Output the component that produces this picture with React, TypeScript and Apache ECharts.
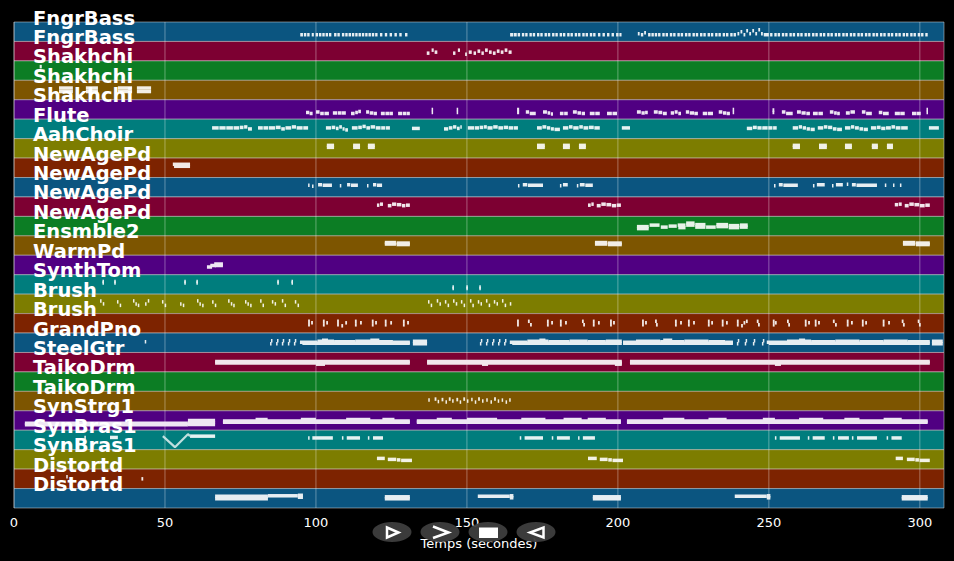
import React, { useEffect, useRef } from 'react';
import * as echarts from 'echarts';

const laneLabels = ['FngrBass', 'FngrBass', 'Shakhchi', 'Shakhchi', 'Shakhchi', 'Flute', 'AahChoir', 'NewAgePd', 'NewAgePd', 'NewAgePd', 'NewAgePd', 'Ensmble2', 'WarmPd', 'SynthTom', 'Brush', 'Brush', 'GrandPno', 'SteelGtr', 'TaikoDrm', 'TaikoDrm', 'SynStrg1', 'SynBras1', 'SynBras1', 'Distortd', 'Distortd'];
const laneColors = ['#0b5580', '#7d0032', '#0c7d24', '#7d5500', '#500082', '#007d7d', '#7d7d00', '#7d2300'];
const timeTicks = [0, 50, 100, 150, 200, 250, 300];
const timeMax = 308;

// notes: [start (s), end (s), pitch offset within lane]
const lane0 = [[94.8,95.7,-3],[96.0,96.8,-3],[97.1,97.9,-3],[98.6,99.3,-3],[99.9,100.7,-3],[101.0,101.8,-3],[102.1,102.9,-3],[103.2,104.0,-3],[104.3,105.1,-3],[106.0,106.8,-3],[107.1,107.9,-3],[108.6,109.4,-3],[109.7,110.5,-3],[110.8,111.6,-3],[111.9,112.7,-3],[113.0,113.8,-3],[114.1,114.9,-3],[115.2,116.0,-3],[116.3,117.1,-3],[117.4,118.2,-3],[118.5,119.3,-3],[119.6,120.4,-3],[121.2,122.0,-3],[122.8,123.6,-3],[124.4,125.2,-3],[126.0,126.8,-3],[127.6,128.4,-3],[129.5,130.3,-3],
[164.3,165.3,-3],[165.5,166.5,-3],[166.8,167.6,-3],[168.2,169.0,-3],[169.3,170.1,-3],[170.7,171.5,-3],[171.8,172.6,-3],[173.2,174.0,-3],[174.3,175.1,-3],[175.7,176.5,-3],[176.8,177.6,-3],[178.2,179.0,-3],[179.3,180.1,-3],[180.7,181.5,-3],[181.8,182.6,-3],[183.2,184.0,-3],[184.3,185.1,-3],[185.7,186.5,-3],[186.8,187.6,-3],[188.2,189.0,-3],[189.3,190.1,-3],[190.7,191.5,-3],[191.8,192.6,-3],[193.4,194.2,-3],[194.9,195.7,-3],[196.4,197.2,-3],[197.9,198.7,-3],[199.4,200.2,-3],[200.5,201.2,-3],
[206.6,207.2,-2],[207.6,208.4,-3],[208.7,209.3,-1],[210.0,210.8,-3],[211.1,211.9,-3],[212.2,213.0,-3],[213.3,214.1,-3],[214.7,215.5,-3],[215.8,216.6,-3],[217.2,218.0,-3],[218.3,219.1,-3],[219.7,220.5,-3],[220.8,221.6,-3],[222.2,223.0,-3],[223.3,224.1,-3],[224.7,225.5,-3],[225.8,226.6,-3],[227.2,228.0,-3],[228.3,229.1,-3],[229.7,230.5,-3],[230.8,231.6,-3],[232.2,233.0,-3],[233.3,234.1,-3],[234.7,235.5,-3],[235.8,236.6,-3],[237.2,238.0,-3],[238.3,239.1,-3],[239.6,240.2,-2],[240.6,241.2,0],[241.6,242.2,-3],[242.5,243.1,1],[243.5,244.1,-2],[244.5,245.1,1],[245.5,246.1,-2],[246.5,247.1,2],[247.4,248.0,-2],[248.3,250.0,-3],[250.4,251.2,-3],[251.8,252.6,-3],[252.9,253.7,-3],[254.3,255.1,-3],[255.4,256.2,-3],[256.8,257.6,-3],[257.9,258.7,-3],[259.3,260.1,-3],[260.4,261.2,-3],[261.8,262.6,-3],[262.9,263.7,-3],[264.3,265.1,-3],[265.4,266.2,-3],[266.8,267.6,-3],[267.9,268.7,-3],[269.3,270.1,-3],[270.4,271.2,-3],[271.8,272.6,-3],[272.9,273.7,-3],[274.3,275.1,-3],[275.4,276.2,-3],[276.8,277.6,-3],[277.9,278.7,-3],[279.3,280.1,-3],[280.4,281.2,-3],[281.8,282.6,-3],[282.9,283.7,-3],[284.3,285.1,-3],[285.4,286.2,-3],[286.8,287.6,-3],[287.9,288.7,-3],[289.3,290.1,-3],[290.4,291.2,-3],[291.8,292.6,-3],[292.9,293.7,-3],[294.3,295.1,-3],[295.4,296.2,-3],[296.8,297.6,-3],[297.9,298.7,-3],[299.3,300.1,-3],[300.4,301.2,-3],[301.8,302.6,-3]];
const lane1 = [[136.7,137.6,-2],[138.3,139.0,1],[139.3,140.2,-1],[145.4,146.2,-2],[147.0,147.7,1],[149.4,150.0,-3],[150.6,151.6,-1],[152.2,153.0,-2],[153.5,154.4,0],[154.8,155.6,-2],[156.0,156.9,1],[157.3,158.2,-1],[158.6,159.5,-2],[159.9,160.8,0],[161.2,162.1,-1],[162.5,163.4,1],[163.8,164.8,-1]];
const lane2 = [[8.5,9.2,4]];
const lane3 = [[14.9,19.5,2],[14.9,19.5,-1.5],[23.8,27.8,2],[23.8,27.8,-1.5],[34.4,39.1,2],[34.4,39.1,-1.5],[40.7,45.4,2],[40.7,45.4,-1.5]];
const lane4 = [[96.7,97.8,-3],[97.9,98.9,-4],[100.0,101.2,-2.5],[101.4,102.6,-4],[102.8,104.3,-4],[105.6,107.0,-3.5],[107.2,108.5,-3.5],[108.6,109.9,-3.5],[111.6,112.8,-4],[113.0,113.9,-3],[114.0,114.9,-2],[116.6,117.6,-2.5],[117.8,119.0,-3.5],[119.1,120.2,-4],[121.5,122.8,-4],[123.0,124.2,-4],[124.3,125.5,-4],[127.2,128.5,-4],[128.7,129.9,-4],[130.0,131.1,-4],[138.3,138.8,-3],[138.3,138.8,0],[146.6,147.1,-3],[146.6,147.1,0],[166.6,167.3,-3],[166.6,167.3,0],[169.5,170.6,-2.5],[170.8,172.8,-4],[175.2,176.5,-2.5],[176.7,177.6,-3.5],[177.8,178.5,-4.5],[180.8,182.0,-4],[182.2,183.4,-4],[185.1,186.4,-2.5],[186.6,187.8,-3.5],[188.0,189.1,-4],[190.7,192.3,-4],[192.5,194.0,-4],[196.4,198.0,-4],[198.2,199.7,-4],[206.3,207.6,-2.5],[207.8,208.9,-3.5],[209.0,209.9,-3],[211.9,213.2,-2.5],[213.4,214.7,-3],[214.9,216.2,-4],[217.5,218.6,-3.5],[218.8,219.8,-2.5],[220.0,220.9,-4],[222.5,223.6,-2.5],[223.8,225.2,-3.5],[225.3,226.5,-4],[228.1,229.6,-4],[229.8,231.5,-4],[233.4,234.6,-2.5],[234.8,235.9,-3.5],[236.0,237.1,-4],[238.0,238.5,-3],[238.0,238.5,0],[251.2,251.8,-3],[251.2,251.8,-0.5],[254.3,255.5,-2.5],[255.7,257.9,-4],[259.3,260.6,-2.5],[260.8,262.2,-3.5],[262.4,263.6,-4],[264.6,266.2,-4],[266.4,267.9,-4],[270.2,271.4,-2.5],[271.6,272.5,-3.5],[272.6,273.5,-4],[275.5,276.8,-3.5],[277.0,278.5,-2.5],[280.8,282.0,-2.5],[282.2,284.1,-4],[286.4,287.6,-3],[287.8,289.7,-4],[291.7,293.4,-4],[293.5,295.0,-4],[297.4,298.9,-4],[299.0,300.3,-4],[302.2,302.7,-3],[302.2,302.7,0]];
const lane5 = [[65.6,67.8,1],[68.0,70.1,1],[70.3,72.5,1],[72.7,74.6,1],[74.8,76.0,1.5],[76.2,77.3,2],[77.5,78.8,0],[80.8,82.4,1],[82.6,84.2,1],[84.4,86.5,1],[86.7,88.3,1.5],[88.5,89.7,0],[89.9,91.8,1],[92.0,93.4,2],[93.6,95.6,1],[95.8,97.4,1],[103.3,105.0,1],[105.2,106.4,1.5],[106.6,107.5,0.5],[107.7,108.6,2],[108.8,109.5,0],[109.7,110.6,-1],[111.9,113.8,1],[114.0,115.2,1.5],[115.4,116.5,2.5],[116.7,117.9,1],[118.1,119.6,2],[119.8,121.4,1],[121.6,123.0,1],[123.2,124.5,1],[131.8,134.4,0.5],[142.4,143.8,0],[144.0,145.2,1],[145.4,146.5,2],[146.7,147.6,0.5],[147.8,148.3,2],[150.3,152.4,1],[152.6,154.0,1],[154.2,155.4,1.5],[155.6,156.6,2],[156.8,158.5,1],[158.7,160.2,2],[160.4,162.0,1],[162.2,163.6,1.5],[163.8,165.4,1],[165.6,166.9,1],[173.2,174.8,1],[175.0,176.3,2],[176.5,177.6,1],[177.8,178.8,0],[179.0,180.8,-0.5],[181.8,183.6,1],[183.8,185.0,2],[185.2,187.0,1],[187.2,188.4,2],[188.6,190.2,1],[190.4,192.0,1.5],[192.2,194.0,1],[201.3,204.0,1],[242.7,244.5,0.5],[244.7,246.0,1.5],[246.2,247.6,1],[247.8,249.6,1],[249.8,251.2,1],[251.4,252.6,1],[257.9,259.7,1],[259.9,261.0,2],[261.2,262.3,1],[262.5,263.6,0],[263.8,265.2,-0.5],[266.2,268.0,1],[268.2,269.4,2],[269.6,271.0,1.5],[271.2,272.4,0],[272.6,274.2,-0.5],[275.2,277.0,1],[277.2,278.3,2],[278.5,279.8,1],[280.0,281.2,0],[281.4,282.8,-0.5],[283.8,285.6,1],[285.8,287.0,1.5],[287.2,288.6,0.5],[288.8,290.4,1],[290.6,291.8,2],[292.0,293.6,1],[293.8,296.0,1],[303.0,306.3,1]];
const lane6 = [[103.6,106.0,3],[103.6,106.0,1],[112.3,114.6,3],[112.3,114.6,1],[117.2,119.5,3],[117.2,119.5,1],[173.2,175.8,3],[173.2,175.8,1],[181.8,184.1,3],[181.8,184.1,1],[187.1,189.4,3],[187.1,189.4,1],[257.9,260.3,3],[257.9,260.3,1],[266.6,269.2,3],[266.6,269.2,1],[275.2,277.5,3],[275.2,277.5,1],[284.1,286.1,3],[284.1,286.1,1],[289.1,291.1,3],[289.1,291.1,1]];
const lane7 = [[52.6,58.3,3.5],[53.0,58.3,1.5]];
const lane8 = [[97.4,97.9,2],[98.7,99.2,1],[100.7,102.0,2.5],[102.2,105.3,2],[107.9,108.4,1.5],[110.3,111.4,2.5],[111.6,113.9,2],[116.9,117.4,1.5],[118.9,120.0,2.5],[120.2,121.9,2],[166.9,167.4,1.5],[168.5,170.0,2.5],[170.2,175.2,2],[180.8,181.3,1.5],[181.8,183.4,2.5],[186.4,186.9,1.5],[187.4,189.0,2.5],[189.2,191.7,2],[251.7,252.2,1.5],[253.3,254.6,2.5],[254.8,259.6,2],[264.6,265.1,1.5],[265.9,268.5,2.5],[270.9,271.4,1.5],[272.2,274.5,2.5],[275.8,276.3,3],[277.5,278.8,2.5],[279.0,285.8,2],[288.4,288.9,2],[291.1,291.6,2],[293.4,293.9,2]];
const lane9 = [[120.2,121.0,1.5],[121.2,122.2,2.5],[123.8,125.0,1],[125.2,126.6,2.5],[126.8,128.3,2],[128.5,129.6,1],[129.8,131.1,1.5],[190.1,191.0,1.5],[191.2,192.0,2.5],[193.0,194.3,1],[194.5,196.0,2.5],[196.2,197.8,2],[198.0,199.4,1],[199.6,201.0,1.5],[291.7,292.8,2],[293.0,294.0,2.5],[295.0,296.3,1],[296.5,298.0,2.5],[298.2,299.8,2],[300.0,301.6,1],[301.8,303.3,1.5]];
const lane10 = [[206.3,210.2,-0.5],[206.3,210.2,-2.5],[210.5,213.8,1],[214.2,216.5,-1],[216.8,219.5,0],[219.8,222.4,1],[220.0,222.4,-1.5],[222.6,225.4,3],[222.6,225.4,1],[225.6,229.0,1.5],[225.6,229.0,-1],[229.2,232.4,-1],[232.6,236.5,1.5],[232.6,236.5,-0.5],[236.7,240.2,0.5],[236.7,240.2,-1.5],[240.4,243.0,1],[240.4,243.0,-1]];
const lane11 = [[122.8,126.5,3],[122.8,126.5,1.5],[126.7,131.1,2.5],[126.7,131.1,1],[192.4,196.5,3],[192.4,196.5,1.5],[196.7,201.3,2.5],[196.7,201.3,1],[294.4,298.5,3],[294.4,298.5,1.5],[298.7,303.3,2.5],[298.7,303.3,1]];
const lane12 = [[63.9,65.6,-2],[65.0,66.9,-0.5],[66.3,69.2,1],[66.5,69.2,-0.5]];
const lane13 = [[29.3,29.7,1.5],[29.3,29.7,3],[33.2,33.6,1.5],[33.2,33.6,3],[56.4,56.8,1.5],[56.4,56.8,3],[60.4,60.8,1.5],[60.4,60.8,3],[87.2,87.6,1.5],[87.2,87.6,3],[91.9,92.3,1.5],[91.9,92.3,3],[145.2,145.6,-4],[145.2,145.6,-2.5],[149.8,150.2,-4],[149.8,150.2,-2.5],[154.1,154.5,-4],[154.1,154.5,-2.5]];
const lane14 = [[28.5,29.0,3],[29.4,29.9,0],[34.1,34.6,2],[35.0,35.5,-1.5],[39.4,39.9,3],[40.2,40.7,0],[41.0,41.5,-1.5],[43.4,43.9,0],[44.3,44.8,3],[49.0,49.5,2],[49.9,50.4,-1.5],[55.0,55.5,0],[55.9,56.4,-1.5],[60.6,61.1,3],[61.4,61.9,0],[62.3,62.8,-1.5],[65.6,66.1,2],[66.5,67.0,-1.5],[70.9,71.4,3],[71.8,72.3,0],[72.6,73.1,-1.5],[76.5,77.0,2],[77.3,77.8,0],[78.2,78.7,-1.5],[81.5,82.0,3],[82.3,82.8,-1.5],[85.4,85.9,2],[86.3,86.8,0],[88.7,89.2,3],[89.6,90.1,-1.5],[93.0,93.5,2],[93.9,94.4,-1.5],[137.1,137.6,2],[138.0,138.5,-1.5],[140.0,140.5,3],[140.9,141.4,0],[142.7,143.2,2],[143.6,144.1,-1.5],[145.4,145.9,3],[146.3,146.8,0],[148.0,148.5,2],[148.9,149.4,-1.5],[151.0,151.5,3],[151.8,152.3,-1.5],[153.6,154.1,2],[154.5,155.0,0],[156.3,156.8,3],[157.2,157.7,-1.5],[158.9,159.4,2],[159.8,160.3,0],[161.6,162.1,3],[162.5,163.0,-1.5],[164.2,164.7,0]];
const lane15 = [[97.4,98.0,2],[97.4,98.0,-1.5],[98.4,99.0,0.5],[102.3,102.9,2],[102.3,102.9,-1.5],[103.4,104.0,0.5],[107.0,107.6,2],[107.0,107.6,-1.5],[108.4,109.0,-2.5],[109.7,110.3,0.5],[112.9,113.5,2],[112.9,113.5,-1.5],[114.6,115.2,0.5],[118.5,119.1,2],[118.5,119.1,-1.5],[119.6,120.2,0.5],[122.8,123.4,2],[122.8,123.4,-1.5],[124.6,125.2,0.5],[128.8,129.4,2],[128.8,129.4,-1.5],[130.2,130.8,0.5],[166.6,167.2,2],[166.6,167.2,-1.5],[170.2,170.8,2],[170.9,171.5,-1.5],[176.5,177.1,2],[176.5,177.1,-1.5],[177.9,178.5,0.5],[180.8,181.4,2],[180.8,181.4,-1.5],[182.5,183.1,0.5],[188.1,188.7,2],[188.5,189.1,-1.5],[191.7,192.3,2],[191.7,192.3,-1.5],[193.4,194.0,0.5],[197.4,198.0,2],[197.4,198.0,-1.5],[198.4,199.0,0.5],[208.0,208.6,2],[208.0,208.6,-1.5],[209.0,209.6,0.5],[212.3,212.9,2],[212.6,213.2,-1.5],[218.9,219.5,2],[218.9,219.5,-1.5],[220.6,221.2,0.5],[223.2,223.8,2],[223.2,223.8,-1.5],[224.9,225.5,0.5],[229.8,230.4,2],[229.8,230.4,-1.5],[230.9,231.5,0.5],[234.4,235.0,2],[234.4,235.0,-1.5],[235.8,236.4,0.5],[239.4,240.0,2],[239.4,240.0,-1.5],[240.8,241.4,-2.5],[241.6,242.2,0.5],[242.4,243.0,2],[246.0,246.6,2],[246.4,247.0,-1.5],[251.3,251.9,2],[251.3,251.9,-1.5],[252.0,252.6,0.5],[256.0,256.6,2],[256.4,257.0,-1.5],[261.9,262.5,2],[261.9,262.5,-1.5],[263.0,263.6,0.5],[265.2,265.8,2],[265.2,265.8,-1.5],[266.3,266.9,0.5],[271.2,271.8,2],[271.9,272.5,-1.5],[275.8,276.4,2],[275.8,276.4,-1.5],[277.2,277.8,0.5],[280.8,281.4,2],[280.8,281.4,-1.5],[281.9,282.5,0.5],[287.7,288.3,2],[287.7,288.3,-1.5],[289.5,290.1,0.5],[294.0,294.6,2],[294.4,295.0,-1.5],[299.3,299.9,2],[299.7,300.3,-1.5]];
const lane16 = [[43.3,43.7,1],[84.8,85.3,-1],[85.1,85.6,2],[86.8,87.3,-1],[87.1,87.6,2],[88.7,89.2,-1],[89.0,89.5,2],[90.7,91.2,-1],[91.0,91.5,2],[92.7,93.2,-1],[93.0,93.5,2],[94.7,100.5,0.5],[100.5,106.0,1.5],[106.0,113.0,1],[113.0,120.0,1.5],[120.0,125.5,1],[125.5,131.1,0.5],[95.5,131.1,-0.5],[102.0,104.0,2.5],[118.0,121.0,2.5],[132.1,136.8,1.5],[132.1,136.8,-1],[154.3,154.8,-1],[154.6,155.1,2],[156.3,156.8,-1],[156.6,157.1,2],[158.3,158.8,-1],[158.6,159.1,2],[160.3,160.8,-1],[160.6,161.1,2],[162.3,162.8,-1],[162.6,163.1,2],[164.2,170.0,0.5],[170.0,177.0,1.5],[177.0,184.0,1],[184.0,190.0,1.5],[190.0,196.0,1],[196.0,201.3,1.5],[165.0,201.3,-0.5],[174.0,176.0,2.5],[201.7,206.0,0.5],[206.0,214.0,1.5],[214.0,222.0,1],[222.0,230.0,1.5],[230.0,235.5,1],[235.5,238.1,0.5],[201.7,238.1,-0.5],[215.0,218.0,2.5],[239.4,239.9,-1],[239.7,240.2,2],[242.0,242.5,-1],[242.3,242.8,2],[244.7,245.2,-1],[245.0,245.5,2],[247.7,248.2,-1],[248.0,248.5,2],[249.3,256.0,0.5],[256.0,264.0,1.5],[264.0,272.0,1],[272.0,280.0,1.5],[280.0,288.0,1],[288.0,296.0,1.5],[296.0,303.3,1],[250.0,303.3,-0.5],[260.0,262.0,2.5],[304.0,307.6,1.5],[304.0,307.6,-1]];
const lane17 = [[66.6,131.1,0.7],[66.6,131.1,-0.7],[136.8,201.3,0.7],[136.8,201.3,-0.7],[204.0,303.3,0.7],[204.0,303.3,-0.7],[100.0,103.0,-2],[155.0,157.0,-2],[199.0,201.3,-2],[252.0,254.0,-2]];
const lane18: number[][] = [];
const lane19 = [[137.2,137.6,1],[139.3,139.9,2],[140.3,140.8,-0.5],[141.6,142.2,1.5],[142.9,143.3,-1],[144.0,144.6,2],[145.1,145.6,0],[146.5,147.1,1.5],[147.6,148.0,-1],[148.8,149.4,2],[150.0,150.5,0],[151.4,151.9,1.5],[152.6,153.0,-1],[153.7,154.3,2],[155.0,155.5,0],[156.4,156.9,1],[157.8,158.2,-1],[159.0,159.6,2],[160.2,160.6,0],[161.5,162.0,1],[162.8,163.2,-1],[164.0,164.5,1]];
const lane20 = [[3.6,57.6,-2.8],[3.6,57.6,-4.2],[57.6,66.6,0],[57.6,66.6,-2],[57.6,66.6,-4],[69.2,131.1,-0.5],[69.2,131.1,-1.8],[80.0,84.0,1],[95.0,100.0,1],[110.0,118.0,1],[122.0,126.0,1],[133.4,201.0,-0.5],[133.4,201.0,-1.8],[140.0,145.0,1],[150.0,160.0,1],[168.0,176.0,1],[182.0,188.0,1],[190.0,196.0,1],[203.0,302.6,-0.5],[203.0,302.6,-1.8],[215.0,222.0,1],[230.0,236.0,1],[248.0,252.0,1],[260.0,268.0,1],[275.0,280.0,1],[288.0,294.0,1]];
const lane21 = [[23.3,23.8,2.5],[31.8,34.4,2.5],[58.3,66.6,3.8],[97.4,97.9,2],[98.8,105.6,2],[108.6,109.1,2],[110.2,114.6,2],[117.2,117.7,2],[118.9,122.2,2],[167.5,168.0,2],[169.1,175.2,2],[178.1,178.6,2],[179.8,184.1,2],[186.8,187.3,2],[188.4,192.4,2],[252.0,252.5,2],[253.6,260.3,2],[262.9,263.4,2],[264.5,268.5,2],[271.2,271.7,2],[272.9,276.5,2],[277.5,278.0,2],[279.2,285.8,2],[289.0,289.5,2],[290.6,294.0,2]];
const lane22 = [[120.2,122.8,1],[123.8,126.6,0],[126.8,128.0,-0.5],[128.2,131.8,-1],[190.1,193.0,1],[194.0,196.6,0],[196.8,198.0,-0.5],[198.2,201.7,-1],[292.0,294.4,1],[295.7,298.3,0],[298.5,299.7,-0.5],[299.9,303.3,-1]];
const lane23 = [[17.3,17.7,2],[42.2,42.8,0]];
const lane24 = [[66.6,84.1,2],[66.6,84.1,-0.5],[84.1,94.0,2.5],[94.0,95.7,3],[94.0,95.7,1],[122.8,131.1,1.5],[122.8,131.1,-0.5],[153.6,164.2,2],[164.2,165.4,2.5],[164.2,165.4,0.5],[191.7,201.0,1.5],[191.7,201.0,-0.5],[238.7,249.3,2],[249.3,250.5,2.5],[249.3,250.5,0.5],[294.0,302.6,1.5],[294.0,302.6,-0.5]];
// pitch bend on lane 21: [time, pitch offset]
const bendLane = 21;
const bendPoints = [[49.3,3.8],[53.3,-7.2],[57.6,5.8],[58.3,3.8]];

const lanes = [lane0, lane1, lane2, lane3, lane4, lane5, lane6, lane7, lane8, lane9, lane10, lane11, lane12, lane13, lane14, lane15, lane16, lane17, lane18, lane19, lane20, lane21, lane22, lane23, lane24];

function tint(hex: string, k: number) {
  const n = parseInt(hex.slice(1), 16);
  const r = (n >> 16) & 255, g = (n >> 8) & 255, b = n & 255;
  const m = (c: number) => Math.round(c + (255 - c) * k);
  return `rgb(${m(r)},${m(g)},${m(b)})`;
}

const LANE_PX = 19.44;

export default function App() {
  const ref = useRef<HTMLDivElement>(null);
  useEffect(() => {
    document.body.style.margin = '0';
    document.body.style.background = '#000';
    const chart = echarts.init(ref.current!, null, { renderer: 'svg' });
    const noteData = lanes.flatMap((notes, li) => notes.map((n) => [n[0], n[1], li, n[2]]));
    const bandData = laneLabels.map((_, i) => [i]);
    const bendData = bendPoints.map((p) => [p[0], bendLane + 0.5 - p[1] / LANE_PX]);
    const font = 'DejaVu Sans';
    chart.setOption({
      animation: false,
      backgroundColor: '#000',
      grid: { left: 14, right: 10, top: 22, bottom: 53 },
      xAxis: {
        type: 'value', min: 0, max: timeMax,
        name: 'Temps (secondes)', nameLocation: 'middle', nameGap: 29,
        nameTextStyle: { color: '#fff', fontSize: 13, fontFamily: font },
        axisLine: { show: false },
        axisTick: { show: true, length: 5, lineStyle: { color: '#fff' }, customValues: timeTicks },
        axisLabel: { color: '#fff', fontSize: 13, fontFamily: font, margin: 8, customValues: timeTicks },
        splitLine: { show: false },
      },
      yAxis: {
        type: 'value', inverse: true, min: 0, max: laneLabels.length, interval: 1,
        axisLine: { show: false }, axisTick: { show: false }, splitLine: { show: false }, axisLabel: { show: false },
      },
      series: [
        {
          type: 'custom', z: 1, silent: true, data: bandData,
          renderItem: (params: any, api: any) => {
            const i = api.value(0);
            const a = api.coord([0, i]);
            const b = api.coord([timeMax, i + 1]);
            return {
              type: 'rect',
              shape: { x: a[0], y: a[1], width: b[0] - a[0], height: b[1] - a[1] },
              style: { fill: laneColors[i % laneColors.length], stroke: 'rgba(215,215,215,0.5)', lineWidth: 1 },
            };
          },
        },
        {
          type: 'custom', z: 2, silent: true, data: timeTicks.map((t) => [t]),
          renderItem: (params: any, api: any) => {
            const a = api.coord([api.value(0), 0]);
            const b = api.coord([api.value(0), laneLabels.length]);
            return { type: 'line', shape: { x1: a[0], y1: a[1], x2: b[0], y2: b[1] }, style: { stroke: 'rgba(255,255,255,0.35)', lineWidth: 1 } };
          },
        },
        {
          type: 'custom', z: 3, silent: true, data: noteData,
          renderItem: (params: any, api: any) => {
            const s = api.value(0), e = api.value(1), li = api.value(2), p = api.value(3);
            const a = api.coord([s, li + 0.5]);
            const b = api.coord([e, li + 0.5]);
            const h = Math.abs(api.size([0, 1])[1]);
            const y = a[1] - (p * h) / LANE_PX;
            return {
              type: 'rect',
              shape: { x: a[0], y: y - 1.75, width: Math.max(b[0] - a[0], 1.5), height: 3.5 },
              style: { fill: tint(laneColors[li % laneColors.length], 0.9) },
            };
          },
        },
        {
          type: 'line', z: 3, silent: true, data: bendData, symbol: 'none',
          lineStyle: { color: tint(laneColors[bendLane % laneColors.length], 0.75), width: 2.2 },
        },
        {
          type: 'custom', z: 5, silent: true, data: bandData,
          renderItem: (params: any, api: any) => {
            const i = api.value(0);
            const a = api.coord([0, i]);
            return {
              type: 'text',
              x: a[0] + 19, y: a[1] - 4,
              style: { text: laneLabels[i], fill: '#fff', fontSize: 19.5, fontWeight: 'bold', fontFamily: font, align: 'left', verticalAlign: 'middle' },
            };
          },
        },
      ],
      graphic: [
        { type: 'ellipse', z: 100, shape: { cx: 392, cy: 532, rx: 19.5, ry: 10 }, style: { fill: 'rgba(62,62,62,0.95)' } },
        { type: 'ellipse', z: 100, shape: { cx: 440, cy: 532, rx: 19.5, ry: 10 }, style: { fill: 'rgba(62,62,62,0.95)' } },
        { type: 'ellipse', z: 100, shape: { cx: 488, cy: 532, rx: 19.5, ry: 10 }, style: { fill: 'rgba(62,62,62,0.95)' } },
        { type: 'ellipse', z: 100, shape: { cx: 536, cy: 532, rx: 19.5, ry: 10 }, style: { fill: 'rgba(62,62,62,0.95)' } },
        { type: 'polygon', z: 101, shape: { points: [[387, 527.5], [387, 537.5], [398.5, 532.5]] }, style: { fill: 'none', stroke: '#fff', lineWidth: 2.5 } },
        { type: 'polyline', z: 101, shape: { points: [[433, 526.5], [448.5, 532.5], [433, 538]] }, style: { fill: 'none', stroke: '#fff', lineWidth: 2.5 } },
        { type: 'rect', z: 101, shape: { x: 479, y: 527.5, width: 19, height: 10.5 }, style: { fill: '#fff' } },
        { type: 'polygon', z: 101, shape: { points: [[543.5, 527.5], [543.5, 537.5], [530, 532.5]] }, style: { fill: 'none', stroke: '#fff', lineWidth: 2.5 } },
      ],
    });
    return () => chart.dispose();
  }, []);
  return <div ref={ref} style={{ position: 'fixed', left: 0, top: 0, width: 954, height: 561, background: '#000' }} />;
}
